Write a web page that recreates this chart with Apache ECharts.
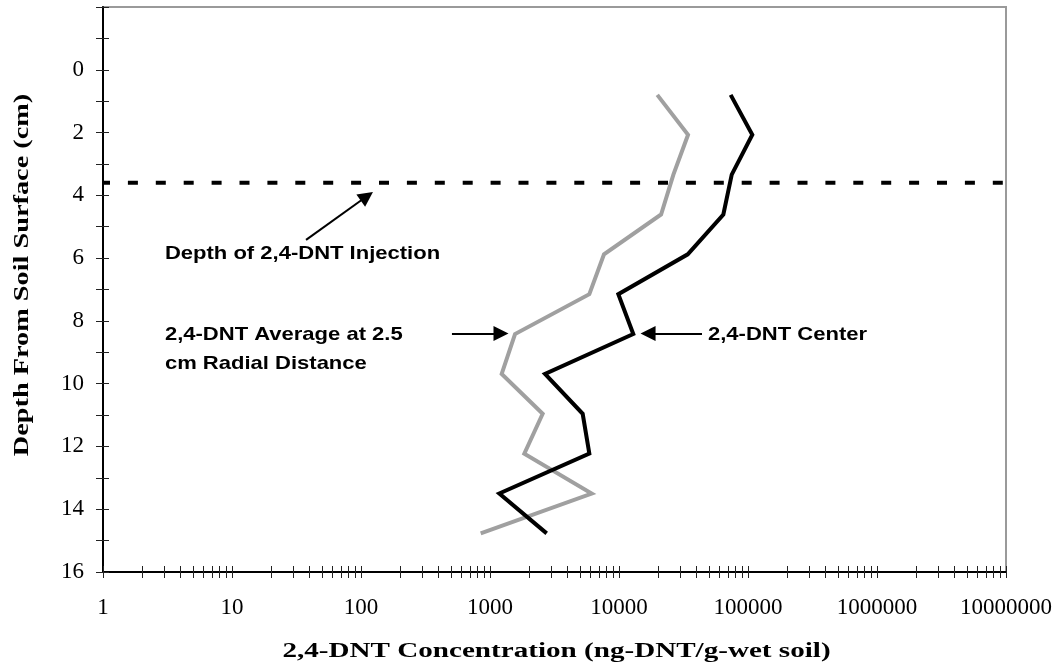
<!DOCTYPE html>
<html><head><meta charset="utf-8">
<script src="https://cdn.jsdelivr.net/npm/echarts@6/dist/echarts.min.js"></script>
<style>html,body{margin:0;padding:0;background:#fff}#c{width:1063px;height:669px}</style>
</head><body><div id="c"></div>
<script>
// ---- data ----
const depths = [0.8, 2.07, 3.34, 4.61, 5.88, 7.15, 8.42, 9.69, 10.96, 12.23, 13.5, 14.77];
const centerConc = [73400, 108000, 74800, 64400, 34100, 9880, 12900, 2670, 5230, 5890, 1181, 2750];
const avgConc = [19800, 34300, 26400, 21200, 7650, 5890, 1563, 1232, 2560, 1845, 6140, 847];
const injectionDepth = 3.6;
const xTickLabels = [1, 10, 100, 1000, 10000, 100000, 1000000, 10000000];
const yTickLabels = [0, 2, 4, 6, 8, 10, 12, 14, 16];
const xTitle = '2,4-DNT Concentration (ng-DNT/g-wet soil)';
const yTitle = 'Depth From Soil Surface (cm)';
// annotation arrows: [from, to] in data coordinates [concentration, depth]
const arrows = [
  [[37.5, 5.42], [111, 4.03]],
  [[507, 8.40], [1217, 8.40]],
  [[43990, 8.40], [16790, 8.40]]
];
// annotation texts: anchor [concentration, depth] for the left edge / middle of the first line
const notes = [
  { text: 'Depth of 2,4-DNT Injection', at: [3.02, 5.86] },
  { text: '2,4-DNT Average at 2.5\ncm Radial Distance', at: [3.02, 8.45] },
  { text: '2,4-DNT Center', at: [48980, 8.45] }
];

// minor/major tick values for the log axis, built from the decade labels
const xTicks = [];
xTickLabels.forEach((d, i) => {
  if (i < xTickLabels.length - 1) { for (let k = 1; k <= 9; k++) xTicks.push(d * k); }
  else xTicks.push(d);
});

const chart = echarts.init(document.getElementById('c'), null, { renderer: 'canvas' });
const serif = '"Liberation Serif", "Times New Roman", serif';
const sans = '"Liberation Sans", Arial, sans-serif';
const GRID = { left: 103, right: 57, top: 7, bottom: 97 };
const gw = 1063 - GRID.left - GRID.right, gh = 669 - GRID.top - GRID.bottom;

const xBase = {
  type: 'log', logBase: 10, min: xTickLabels[0], max: xTickLabels[xTickLabels.length - 1],
  splitLine: { show: false }
};
const yBase = {
  type: 'value', inverse: true, min: -2, max: 16, interval: 1,
  splitLine: { show: false }
};

chart.setOption({
  animation: false,
  backgroundColor: '#fff',
  grid: Object.assign({ show: true, borderColor: '#9a9a9a', borderWidth: 2, containLabel: false }, GRID),
  xAxis: [
    Object.assign({}, xBase, {
      position: 'bottom',
      axisLine: { show: true, onZero: false, lineStyle: { color: '#000', width: 2 } },
      axisTick: { show: true, customValues: xTicks, length: 6, lineStyle: { color: '#222', width: 1 } },
      axisLabel: {
        customValues: xTickLabels, margin: 24, color: '#000', fontFamily: serif, fontSize: 23,
        formatter: v => String(Math.round(v))
      }
    }),
    Object.assign({}, xBase, {
      position: 'top', offset: -gh,
      axisLine: { show: false, onZero: false },
      axisTick: { show: true, customValues: xTicks, length: 6, lineStyle: { color: '#222', width: 1 } },
      axisLabel: { show: false }
    })
  ],
  yAxis: [
    Object.assign({}, yBase, {
      position: 'left',
      axisLine: { show: true, onZero: false, lineStyle: { color: '#000', width: 2 } },
      axisTick: { show: true, length: 7, lineStyle: { color: '#222', width: 1 } },
      axisLabel: { customValues: yTickLabels, margin: 19, color: '#000', fontFamily: serif, fontSize: 23 }
    }),
    Object.assign({}, yBase, {
      position: 'right', offset: -gw,
      axisLine: { show: false, onZero: false },
      axisTick: { show: true, length: 6, lineStyle: { color: '#222', width: 1 } },
      axisLabel: { show: false }
    })
  ],
  series: [
    {
      name: '2,4-DNT Average at 2.5 cm Radial Distance', type: 'line',
      xAxisIndex: 0, yAxisIndex: 0, z: 2,
      data: avgConc.map((v, i) => [v, depths[i]]),
      symbol: 'none', lineStyle: { color: '#a0a0a0', width: 4, join: 'miter' }
    },
    {
      name: '2,4-DNT Center', type: 'line',
      xAxisIndex: 0, yAxisIndex: 0, z: 3,
      data: centerConc.map((v, i) => [v, depths[i]]),
      symbol: 'none', lineStyle: { color: '#000', width: 4, join: 'miter' }
    },
    {
      name: 'Depth of 2,4-DNT Injection', type: 'line',
      xAxisIndex: 0, yAxisIndex: 0, z: 4,
      data: [[xTickLabels[0], injectionDepth], [xTickLabels[xTickLabels.length - 1], injectionDepth]],
      symbol: 'none',
      lineStyle: { color: '#000', width: 4, type: [10, 17.9], dashOffset: 3, cap: 'butt' },
      markLine: {
        silent: true, animation: false,
        symbol: ['none', 'triangle'], symbolSize: 15,
        label: { show: false },
        lineStyle: { color: '#000', width: 2, type: 'solid' },
        emphasis: { disabled: true },
        data: arrows.map(a => [{ coord: a[0] }, { coord: a[1] }])
      }
    }
  ]
});

function px(p) { return chart.convertToPixel({ xAxisIndex: 0, yAxisIndex: 0 }, p); }
const graphics = notes.map(n => {
  const p = px(n.at);
  return {
    type: 'text', x: p[0], y: p[1], scaleX: 1.19, z: 10,
    style: {
      text: n.text, fill: '#000', fontFamily: sans, fontWeight: 'bold', fontSize: 18.5,
      lineHeight: 29, align: 'left', verticalAlign: 'top', y: -14.5
    }
  };
});
graphics.push({
  type: 'text', x: GRID.left + gw / 2 + 2, y: 652, scaleX: 1.42, z: 10,
  style: { text: xTitle, fill: '#000', fontFamily: serif, fontWeight: 'bold', fontSize: 20.5,
    align: 'center', verticalAlign: 'middle' }
});
graphics.push({
  type: 'text', x: 23, y: 275, rotation: Math.PI / 2, scaleX: 1.38, z: 10,
  style: { text: yTitle, fill: '#000', fontFamily: serif, fontWeight: 'bold', fontSize: 20.5,
    align: 'center', verticalAlign: 'middle' }
});
chart.setOption({ graphic: graphics });
</script>
</body></html>
